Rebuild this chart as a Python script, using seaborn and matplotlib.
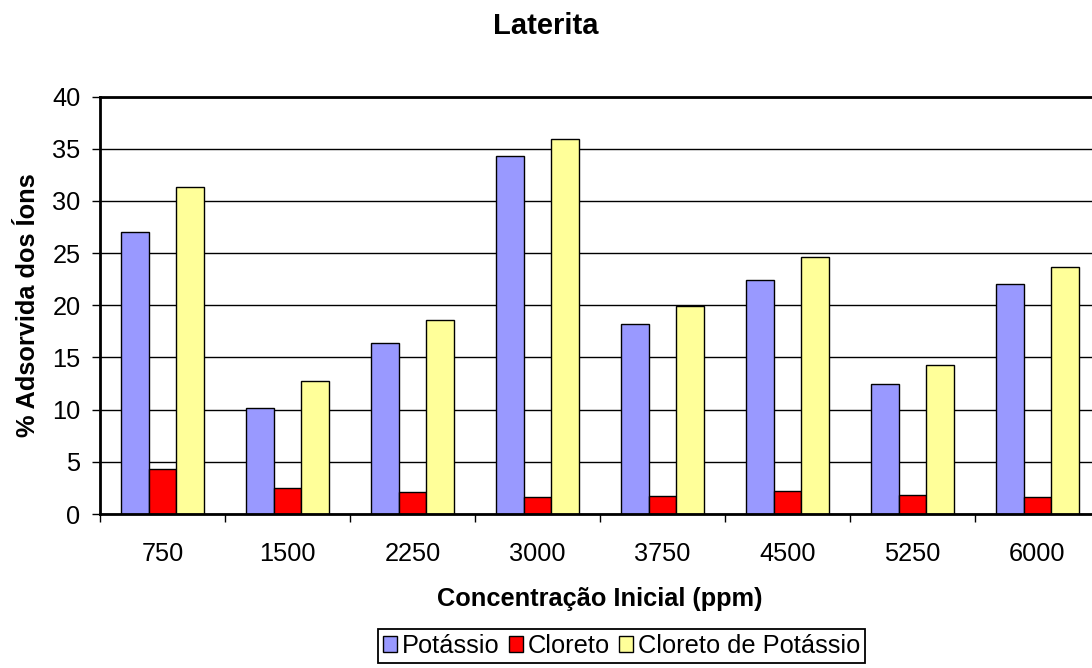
import matplotlib
matplotlib.use("Agg")
import matplotlib.pyplot as plt
import seaborn as sns
import pandas as pd
from matplotlib.ticker import MultipleLocator, FixedLocator

# Initial concentrations (ppm) and adsorbed percentage per ion
concentracoes = ["750", "1500", "2250", "3000", "3750", "4500", "5250", "6000"]
series = ["Potássio", "Cloreto", "Cloreto de Potássio"]
potassio = [27.0, 10.2, 16.4, 34.3, 18.2, 22.4, 12.5, 22.0]
cloreto = [4.3, 2.5, 2.1, 1.6, 1.7, 2.2, 1.8, 1.6]
cloreto_potassio = [31.3, 12.7, 18.6, 35.9, 19.9, 24.6, 14.3, 23.7]
cores = ["#9999FF", "#FF0000", "#FFFF99"]

df = pd.DataFrame({
    "conc": concentracoes * 3,
    "valor": potassio + cloreto + cloreto_potassio,
    "serie": [series[0]] * 8 + [series[1]] * 8 + [series[2]] * 8,
})

sns.set_style("ticks")
plt.rcParams["font.family"] = ["Liberation Sans", "DejaVu Sans"]
plt.rcParams["text.color"] = "black"
plt.rcParams["axes.labelcolor"] = "black"
plt.rcParams["xtick.color"] = "black"
plt.rcParams["ytick.color"] = "black"

W, H = 1092, 668
fig = plt.figure(figsize=(W / 100, H / 100), dpi=100)
# plot area extends slightly past the right edge of the canvas
ax = fig.add_axes([100 / W, 1 - 514 / H, 1000 / W, 417.5 / H])

sns.barplot(data=df, x="conc", y="valor", hue="serie", hue_order=series,
            order=concentracoes, palette=cores, saturation=1, width=2 / 3,
            edgecolor="black", linewidth=1.0, errorbar=None, ax=ax)

ax.set_xlim(-0.5, 7.5)
ax.set_ylim(0, 40)
ax.yaxis.set_major_locator(MultipleLocator(5))
ax.grid(axis="y", color="black", linewidth=1.0)
ax.set_axisbelow(True)

for side in ["left", "bottom", "top", "right"]:
    ax.spines[side].set_visible(True)
    ax.spines[side].set_linewidth(2.0)
    ax.spines[side].set_color("black")

fs = 18.3
ax.tick_params(axis="y", which="major", length=6, width=1.0, pad=8,
               labelsize=fs, color="black", labelcolor="black")
ax.tick_params(axis="x", which="major", length=0, pad=20, labelsize=fs,
               labelcolor="black")
ax.xaxis.set_minor_locator(FixedLocator([i - 0.5 for i in range(9)]))
ax.tick_params(axis="x", which="minor", length=6, width=1.0, color="black")

ax.set_xlabel("Concentração Inicial (ppm)", fontsize=fs, fontweight="bold",
              color="black")
ax.xaxis.set_label_coords(0.5, -0.175)
ax.set_ylabel("% Adsorvida dos Íons", fontsize=fs, fontweight="bold",
              color="black")
ax.yaxis.set_label_coords(-0.06, 0.5)

fig.suptitle("Laterita", x=0.5, y=1 - 26 / H, va="center",
             fontsize=21, fontweight="bold", color="black")

sns.move_legend(ax, loc="center", bbox_to_anchor=(621.5 / W, 1 - 646 / H),
                bbox_transform=fig.transFigure, ncol=3, title=None,
                fontsize=fs, frameon=True, fancybox=False, framealpha=1,
                edgecolor="black", handlelength=0.55, handleheight=0.55,
                handletextpad=0.2, columnspacing=0.35, borderpad=0.2,
                borderaxespad=0)
leg = ax.get_legend()
leg.get_frame().set_linewidth(1.3)
for t in leg.get_texts():
    t.set_color("black")

fig.savefig("out.png", dpi=100)
